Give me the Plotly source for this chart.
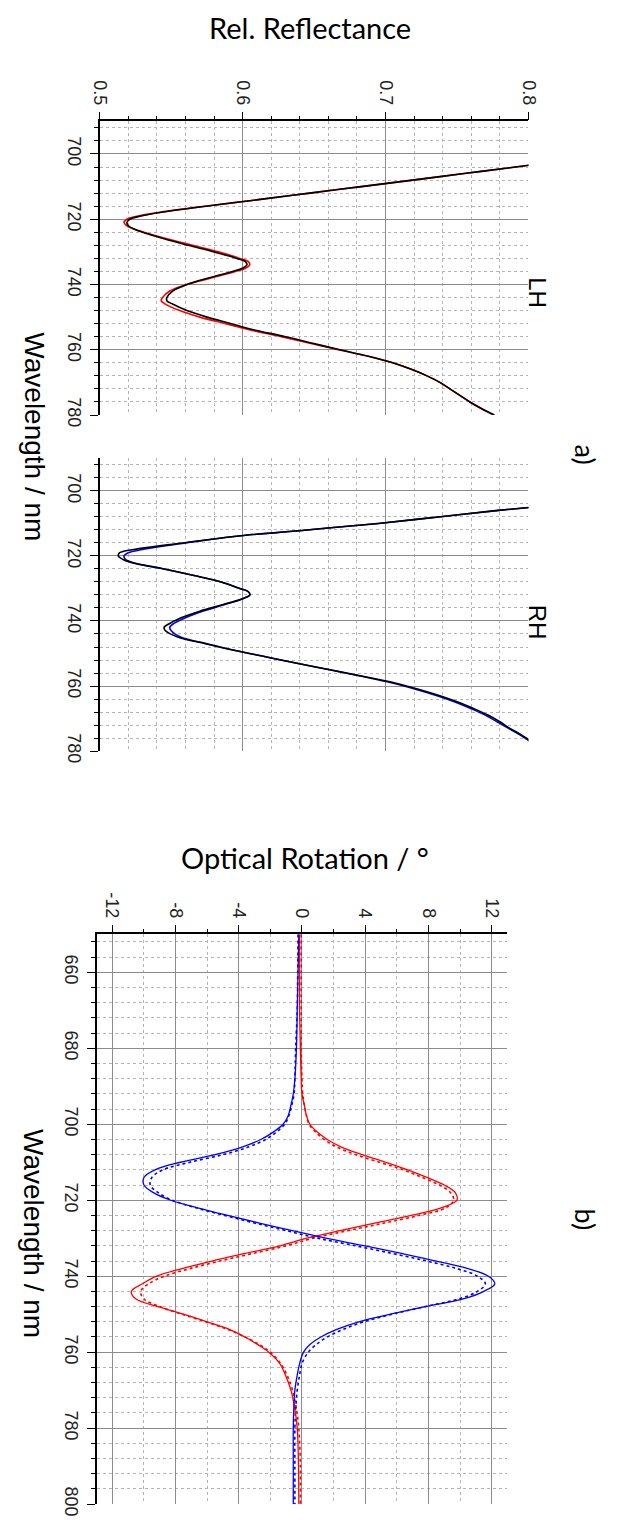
import plotly.graph_objects as go

# ---------------- data: panel a, LH ----------------
lh_wl = [696, 698, 700, 702, 704, 706, 708, 710, 712, 714, 716, 718, 719, 720, 721, 722, 723, 724, 726, 728,
         730, 732, 733, 734, 735, 736, 738, 740, 742, 744, 745, 746, 748, 750, 752, 753, 754, 756, 758, 760,
         762, 764, 766, 768, 770, 772, 774, 776, 778, 780]
lh_black = [0.93, 0.89, 0.862, 0.826, 0.791, 0.755, 0.719, 0.683, 0.647, 0.611, 0.574, 0.541, 0.529, 0.521, 0.519,
            0.520, 0.524, 0.530, 0.545, 0.562, 0.580, 0.596, 0.602, 0.603, 0.600, 0.593, 0.576, 0.561, 0.551, 0.547,
            0.547, 0.551, 0.561, 0.575, 0.592, 0.600, 0.609, 0.630, 0.649, 0.668, 0.688, 0.705, 0.718, 0.729, 0.738,
            0.745, 0.752, 0.759, 0.767, 0.776]
lh_red = [0.93, 0.89, 0.862, 0.826, 0.791, 0.755, 0.719, 0.683, 0.647, 0.611, 0.574, 0.540, 0.527, 0.519, 0.517,
          0.519, 0.524, 0.531, 0.547, 0.565, 0.583, 0.598, 0.604, 0.605, 0.602, 0.595, 0.578, 0.561, 0.549, 0.544,
          0.543, 0.546, 0.556, 0.570, 0.588, 0.597, 0.606, 0.627, 0.647, 0.667, 0.688, 0.705, 0.718, 0.729, 0.738,
          0.745, 0.752, 0.759, 0.767, 0.776]

# ---------------- data: panel a, RH ----------------
rh_wl = [698, 700, 702, 704, 706, 708, 710, 712, 714, 716, 718, 719, 720, 721, 722, 724, 726, 728, 730, 731,
         732, 733, 735, 737, 739, 741, 742, 743, 745, 747, 749, 751, 753, 755, 757, 759, 761, 763, 765, 767,
         769, 771, 773, 775, 777, 780]
rh_black = [0.97, 0.92, 0.872, 0.826, 0.779, 0.737, 0.695, 0.645, 0.594, 0.558, 0.524, 0.514, 0.513, 0.516, 0.522,
            0.545, 0.566, 0.585, 0.598, 0.604, 0.605, 0.601, 0.586, 0.570, 0.557, 0.548, 0.545, 0.546, 0.555, 0.574,
            0.594, 0.616, 0.638, 0.661, 0.684, 0.706, 0.723, 0.738, 0.751, 0.762, 0.772, 0.780, 0.787, 0.795, 0.802,
            0.813]
rh_blue = [0.97, 0.92, 0.872, 0.826, 0.779, 0.737, 0.695, 0.645, 0.594, 0.560, 0.530, 0.520, 0.517, 0.518, 0.523,
           0.545, 0.566, 0.585, 0.598, 0.604, 0.605, 0.601, 0.587, 0.572, 0.560, 0.551, 0.549, 0.550, 0.557, 0.575,
           0.594, 0.616, 0.638, 0.661, 0.683, 0.704, 0.721, 0.736, 0.749, 0.760, 0.770, 0.778, 0.786, 0.794, 0.801,
           0.812]

# ---------------- data: panel b, optical rotation ----------------
or_wl = [650, 660, 670, 680, 688, 692, 695, 698, 700, 702, 704, 706, 708, 710, 712, 714, 716, 718, 720, 722,
         724, 726, 728, 730, 732, 734, 736, 738, 740, 742, 744, 746, 748, 750, 752, 754, 756, 758, 760, 763,
         766, 770, 775, 780, 790, 800]
red_solid = [-0.15, -0.15, -0.15, -0.1, -0.05, 0.0, 0.15, 0.3, 0.5, 0.95, 1.6, 2.5, 3.8, 5.3, 6.7, 7.9, 9.0, 9.7,
             9.8, 8.8, 6.9, 4.6, 2.4, 0.3, -1.4, -3.6, -5.7, -7.6, -9.2, -10.1, -10.8, -10.5, -9.1, -7.5, -6.0,
             -4.6, -3.6, -2.8, -2.1, -1.4, -1.05, -0.7, -0.45, -0.3, -0.22, -0.2]
red_dot = [-0.05, -0.05, -0.05, -0.05, 0.0, 0.05, 0.15, 0.3, 0.45, 0.85, 1.4, 2.2, 3.4, 4.9, 6.4, 7.6, 8.7, 9.4,
           9.6, 9.1, 7.4, 5.2, 2.9, 0.7, -1.0, -3.1, -5.2, -7.1, -8.7, -9.7, -10.2, -10.0, -9.0, -7.6, -6.1,
           -4.7, -3.6, -2.7, -2.0, -1.35, -0.95, -0.6, -0.35, -0.2, -0.1, -0.1]
blue_solid = [-0.2, -0.25, -0.3, -0.35, -0.45, -0.55, -0.7, -0.9, -1.2, -1.8, -2.6, -3.8, -5.5, -7.7, -9.3, -10.0,
              -10.0, -9.4, -8.3, -6.6, -4.7, -2.7, -0.6, 1.5, 4.0, 6.3, 8.5, 10.5, 11.8, 12.2, 11.5, 10.2, 7.8,
              5.6, 3.6, 2.2, 1.2, 0.5, 0.1, -0.15, -0.3, -0.45, -0.52, -0.55, -0.55, -0.55]
blue_dot = [-0.25, -0.27, -0.3, -0.4, -0.45, -0.5, -0.65, -0.85, -1.1, -1.6, -2.3, -3.4, -5.0, -7.1, -8.8, -9.5,
            -9.6, -9.1, -8.2, -6.7, -4.9, -3.0, -1.0, 1.0, 3.4, 5.7, 7.9, 9.8, 11.1, 11.6, 11.1, 9.9, 7.8, 5.7,
            3.9, 2.6, 1.6, 0.9, 0.4, 0.0, -0.15, -0.3, -0.4, -0.45, -0.45, -0.45]

refl_ticks = [0.5, 0.6, 0.7, 0.8]
wl_ticks_a = [700, 720, 740, 760, 780]
or_ticks = [-12, -8, -4, 0, 4, 8, 12]
wl_ticks_b = [660, 680, 700, 720, 740, 760, 780, 800]

W, H = 621, 1533
def px(x):
    return x / W
def py(y):
    return 1 - y / H

fig = go.Figure()
LW = 1.6
fig.add_trace(go.Scatter(x=lh_red, y=lh_wl, mode="lines", line=dict(color="#ff0000", width=LW, shape="spline"), xaxis="x", yaxis="y"))
fig.add_trace(go.Scatter(x=lh_black, y=lh_wl, mode="lines", line=dict(color="#000000", width=LW, shape="spline"), xaxis="x", yaxis="y"))
fig.add_trace(go.Scatter(x=rh_blue, y=rh_wl, mode="lines", line=dict(color="#0000ff", width=LW, shape="spline"), xaxis="x2", yaxis="y2"))
fig.add_trace(go.Scatter(x=rh_black, y=rh_wl, mode="lines", line=dict(color="#000000", width=LW, shape="spline"), xaxis="x2", yaxis="y2"))
fig.add_trace(go.Scatter(x=red_dot, y=or_wl, mode="lines", line=dict(color="#ff0000", width=1.6, dash="dot", shape="spline"), xaxis="x3", yaxis="y3"))
fig.add_trace(go.Scatter(x=blue_dot, y=or_wl, mode="lines", line=dict(color="#0000ff", width=1.6, dash="dot", shape="spline"), xaxis="x3", yaxis="y3"))
fig.add_trace(go.Scatter(x=red_solid, y=or_wl, mode="lines", line=dict(color="#ff0000", width=1.3, shape="spline"), xaxis="x3", yaxis="y3"))
fig.add_trace(go.Scatter(x=blue_solid, y=or_wl, mode="lines", line=dict(color="#0000ff", width=1.3, shape="spline"), xaxis="x3", yaxis="y3"))

tickfont = dict(family="Liberation Sans, Arial, sans-serif", size=18, color="#222222")
major_grid = dict(showgrid=True, gridcolor="#8c8c8c", gridwidth=1.4)

def minor(dtick, tick0, ticks="outside"):
    return dict(tickmode="linear", tick0=tick0, dtick=dtick, ticks=ticks, ticklen=4,
                tickwidth=1.2, tickcolor="black", showgrid=True, gridcolor="#b5b5b5",
                griddash="dot", gridwidth=1)

def xax(domain, rng, tickvals, minor_dtick, minor_tick0, anchor, labels=True, line=True):
    return dict(domain=domain, range=rng, side="top", anchor=anchor,
                tickmode="array", tickvals=tickvals, ticktext=[str(v) for v in tickvals],
                ticks="outside" if line else "", ticklen=8, tickwidth=1.3, tickcolor="black",
                showline=line, linecolor="black", linewidth=1.5, tickangle=90,
                showticklabels=labels,
                tickfont=tickfont, zeroline=False, **major_grid,
                minor=minor(minor_dtick, minor_tick0, "outside" if line else ""))

def yax(domain, rng, tickvals, minor_dtick, minor_tick0, anchor):
    return dict(domain=domain, range=rng, side="left", anchor=anchor,
                tickmode="array", tickvals=tickvals, ticktext=[str(v) for v in tickvals],
                ticks="outside", ticklen=8, tickwidth=1.3, tickcolor="black",
                showline=True, linecolor="black", linewidth=1.5, tickangle=90,
                tickfont=tickfont, zeroline=False, **major_grid,
                minor=minor(minor_dtick, minor_tick0))

xa = [px(92.7), px(535.7)]
fig.update_layout(
    width=W, height=H, margin=dict(l=0, r=0, t=0, b=0),
    paper_bgcolor="white", plot_bgcolor="white", showlegend=False,
    xaxis=xax(xa, [0.5, 0.8], refl_ticks, 0.02, 0.5, "y"),
    yaxis=yax([py(418.3), py(122.3)], [780, 690], wl_ticks_a, 4, 700, "x"),
    xaxis2=xax(xa, [0.5, 0.8], refl_ticks, 0.02, 0.5, "y2", labels=False, line=False),
    yaxis2=yax([py(757), py(462)], [780, 690], wl_ticks_a, 4, 700, "x2"),
    xaxis3=xax([px(89.4), px(514)], [-13, 13], or_ticks, 2, 0, "y3"),
    yaxis3=yax([py(1516), py(941.7)], [800, 650], wl_ticks_b, 4, 660, "x3"),
)

title_font = dict(family="Lato, Carlito, sans-serif", size=29, color="black")
ann = [
    dict(text="Rel. Reflectance", x=px(310), y=py(28), font=title_font, textangle=0),
    dict(text="Optical Rotation / °", x=px(305), y=py(864), font=title_font, textangle=0),
    dict(text="Wavelength / nm", x=px(25), y=py(440), font=dict(family="Liberation Sans, Arial", size=28, color="black"), textangle=90),
    dict(text="Wavelength / nm", x=px(25), y=py(1243), font=dict(family="Liberation Sans, Arial", size=28, color="black"), textangle=90),
    dict(text="a)", x=px(595), y=py(458), font=dict(family="Lato, sans-serif", size=27, color="black"), textangle=90),
    dict(text="b)", x=px(595), y=py(1229), font=dict(family="Lato, sans-serif", size=27, color="black"), textangle=90),
    dict(text="LH", x=px(545), y=py(295), font=dict(family="Liberation Sans, Arial", size=24, color="black"), textangle=90),
    dict(text="RH", x=px(545), y=py(627), font=dict(family="Liberation Sans, Arial", size=24, color="black"), textangle=90),
]
for a in ann:
    a.update(xref="paper", yref="paper", showarrow=False, xanchor="center", yanchor="middle")
fig.update_layout(annotations=ann)

fig.write_html("out.html")
